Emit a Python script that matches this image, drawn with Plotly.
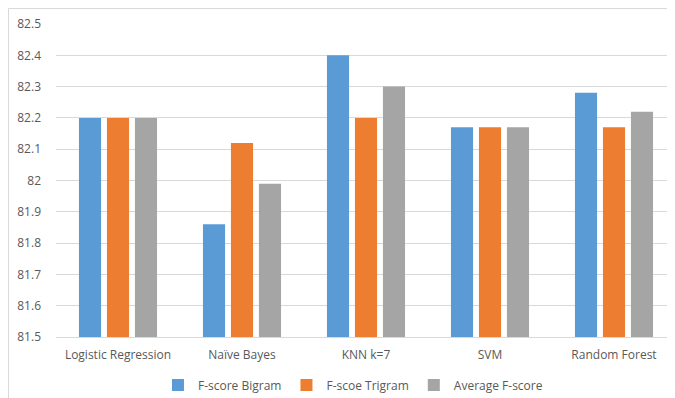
import plotly.graph_objects as go

categories = ["Logistic Regression", "Naïve Bayes", "KNN k=7", "SVM", "Random Forest"]
bigram = [82.2, 81.86, 82.4, 82.17, 82.28]
trigram = [82.2, 82.12, 82.2, 82.17, 82.17]
average = [82.2, 81.99, 82.3, 82.17, 82.22]
series_names = ["F-score Bigram", "F-scoe Trigram", "Average F-score"]
colors = ["#5B9BD5", "#ED7D31", "#A5A5A5"]
tick_vals = [81.5, 81.6, 81.7, 81.8, 81.9, 82.0, 82.1, 82.2, 82.3, 82.4, 82.5]
tick_text = ["81.5", "81.6", "81.7", "81.8", "81.9", "82", "82.1", "82.2", "82.3", "82.4", "82.5"]

fig = go.Figure()
for name, vals, c in zip(series_names, [bigram, trigram, average], colors):
    fig.add_trace(go.Bar(x=categories, y=vals, name=name, marker=dict(color=c, line=dict(width=0))))

border = dict(color="#D9D9D9", width=1)
fig.update_layout(
    width=668, height=391,
    margin=dict(l=48, r=0, t=16, b=62),
    paper_bgcolor="white", plot_bgcolor="white",
    font=dict(family="Open Sans", size=12, color="#595959"),
    barmode="group", bargap=0.323, bargroupgap=0.21,
    showlegend=True,
    legend=dict(orientation="h", x=0.479, xanchor="center", xref="paper",
                yref="container", y=0.036, yanchor="middle",
                font=dict(size=12, color="#595959"), itemwidth=30, traceorder="normal"),
    xaxis=dict(showgrid=False, showline=True, linecolor="#D9D9D9", ticks="",
               ticklabelstandoff=7, tickfont=dict(size=12)),
    yaxis=dict(range=[81.5, 82.5], tickvals=tick_vals, ticktext=tick_text, showgrid=True,
               gridcolor="#D9D9D9", gridwidth=1, zeroline=False, showline=False, ticks="",
               ticklabelstandoff=14, tickfont=dict(size=12)),
    shapes=[
        dict(type="line", xref="paper", yref="paper", x0=-0.0766, x1=1.0, y0=1.0495, y1=1.0495, line=border),
        dict(type="line", xref="paper", yref="paper", x0=-0.0766, x1=-0.0766, y0=1.0495, y1=-0.2, line=border),
    ],
)

fig.write_html("out.html")
